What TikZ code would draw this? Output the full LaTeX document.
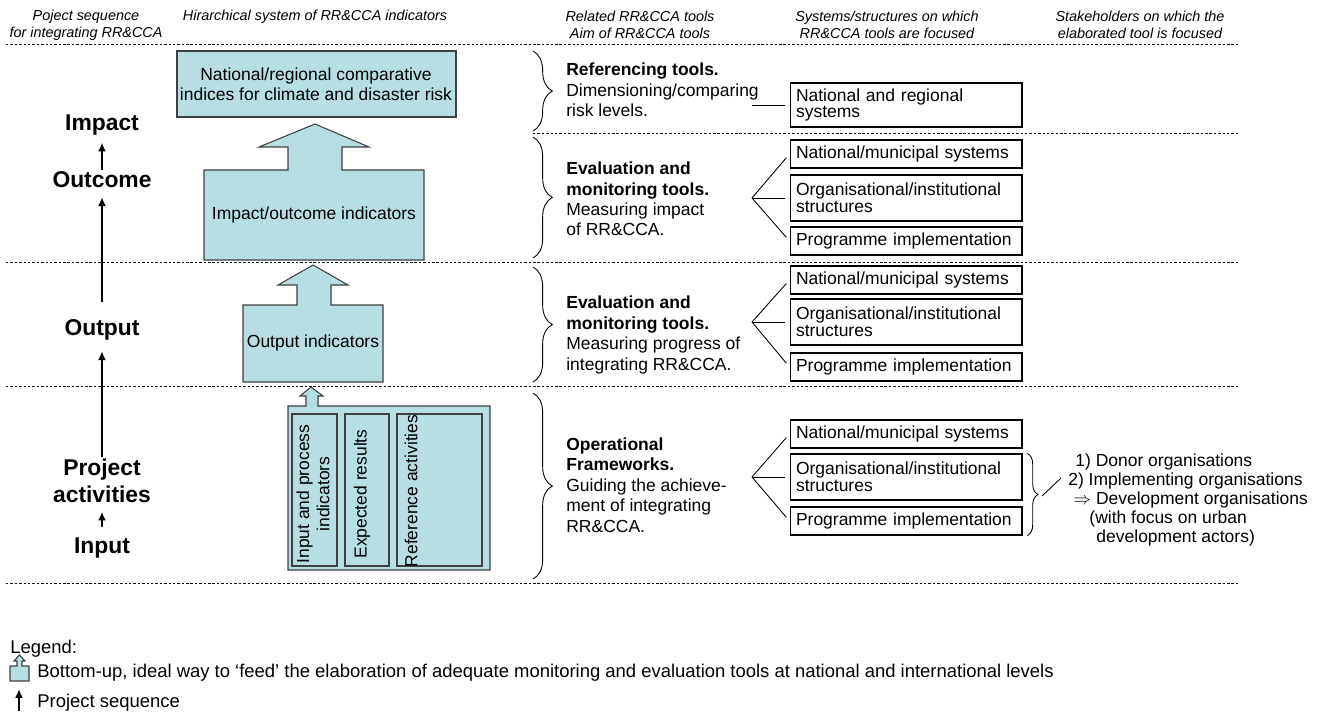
\documentclass[tikz,border=0pt]{standalone}
\usepackage{fontspec}
\setmainfont{Liberation Sans}
\usetikzlibrary{arrows.meta, decorations.pathreplacing}

\definecolor{feedblue}{RGB}{183,222,226}
\definecolor{feededge}{RGB}{64,64,64}

\tikzset{
  sepline/.style={line width=0.45pt, dash pattern=on 1.4pt off 1.1pt},
  feed/.style={fill=feedblue, draw=feededge, line width=0.6pt},
  slot/.style={draw=feededge, line width=0.6pt},
  hdr/.style={font=\fontsize{8.2}{9.6}\selectfont\itshape, align=center, inner sep=0pt},
  stage/.style={font=\fontsize{13}{15}\selectfont\bfseries, align=center, inner sep=1pt},
  seq/.style={line width=1.1pt, -{Latex[length=5pt,width=4.5pt]}},
  ind/.style={font=\fontsize{9.95}{11.6}\selectfont, align=center, inner sep=0pt},
  tooltext/.style={font=\fontsize{9.95}{11.6}\selectfont, align=left, anchor=west, inner sep=0pt},
  toolbrace/.style={decorate, decoration={brace, amplitude=11pt}, line width=0.5pt},
  stakebrace/.style={decorate, decoration={brace, amplitude=6pt}, line width=0.5pt},
  sysbox/.style={draw, line width=0.6pt, font=\fontsize{9.95}{9.4}\selectfont, align=left,
    text width=4.4cm, inner xsep=0.12cm, inner ysep=0pt, minimum height=#1},
  sysbox/.default=0.56cm,
  fan/.style={line width=0.5pt, shorten >=2.8pt},
  plain/.style={font=\fontsize{9.95}{10.8}\selectfont, anchor=west, align=left, inner sep=0pt},
  legendtext/.style={font=\fontsize{10.5}{12}\selectfont, anchor=west, inner sep=0pt},
}

\begin{document}
\begin{tikzpicture}[x=0.02cm, y=-0.02cm]
  \useasboundingbox (0,0) rectangle (1319,713);

  \node[hdr] (hdrseq) at (86,25) {Poject sequence\\for integrating RR\&CCA};
  \node[hdr] (hdrind) at (315,17) {Hirarchical system of RR\&CCA indicators};
  \node[hdr] (hdrtool) at (640,25) {Related RR\&CCA tools\\Aim of RR\&CCA tools};
  \node[hdr] (hdrsys) at (887,25) {Systems/structures on which\\RR\&CCA tools are focused};
  \node[hdr] (hdrstake) at (1140,25) {Stakeholders on which the\\elaborated tool is focused};

  \draw[sepline] (6,44) -- (1238,44);
  \draw[sepline] (533,133) -- (1238,133);
  \draw[sepline] (6,262) -- (1238,262);
  \draw[sepline] (6,386) -- (1238,386);
  \draw[sepline] (6,583) -- (1238,583);

  % project sequence
  \node[stage] (impact) at (102,125) {Impact};
  \node[stage] (outcome) at (102,180) {Outcome};
  \node[stage] (output) at (102,330) {Output};
  \node[stage] (activities) at (102,481) {Project\\activities};
  \node[stage] (input) at (102,548) {Input};
  \draw[seq, shorten >=3pt] (outcome) -- (impact);
  \draw[seq, shorten <=9pt, shorten >=4pt] (output) -- (outcome);
  \draw[seq, shorten >=5pt] (activities) -- (output);
  \draw[seq, shorten <=5pt, shorten >=4pt] (input) -- (activities);

  % indicators
  \filldraw[feed] (177,51) rectangle (456,117);
  \filldraw[feed] (204,170) -- (288,170) -- (288,147) -- (259,147) -- (315,124) -- (369,147)
    -- (342,147) -- (342,170) -- (424,170) -- (424,260) -- (204,260) -- cycle;
  \filldraw[feed] (243,305) -- (297,305) -- (297,285) -- (278,285) -- (313,265) -- (348,285)
    -- (331,285) -- (331,305) -- (383,305) -- (383,382) -- (243,382) -- cycle;
  \filldraw[feed] (288,406) -- (306,406) -- (306,396) -- (300,396) -- (311,387) -- (323,396)
    -- (318,396) -- (318,406) -- (490,406) -- (490,570) -- (288,570) -- cycle;
  \draw[slot] (292,414) rectangle (337,566);
  \draw[slot] (345,414) rectangle (389,566);
  \draw[slot] (397,414) rectangle (482,566);

  \node[ind] (indices) at (316,84) {National/regional comparative\\indices for climate and disaster risk};
  \node[ind] (impind) at (314,215) {Impact/outcome indicators};
  \node[ind] (outind) at (313,343) {Output indicators};
  \node[ind, rotate=90] (inproc) at (313,494) {Input and process\\indicators};
  \node[ind, rotate=90] (expres) at (362,494) {Expected results};
  \node[ind, rotate=90] (refact) at (411,491) {Reference activities};

  % tools
  \draw[toolbrace] (533,51) -- (533,131);
  \draw[toolbrace] (533,137) -- (533,258);
  \draw[toolbrace] (533,267) -- (533,382);
  \draw[toolbrace] (533,393) -- (533,579);

  \node[tooltext] (reftool) at (566,90) {\textbf{Referencing tools.}\\Dimensioning/comparing\\risk levels.};
  \node[tooltext] (evaltool) at (566,199) {\textbf{Evaluation and}\\\textbf{monitoring tools.}\\Measuring impact\\of RR\&CCA.};
  \node[tooltext] (progtool) at (566,335) {\textbf{Evaluation and}\\\textbf{monitoring tools.}\\Measuring progress of\\integrating RR\&CCA.};
  \node[tooltext] (optool) at (566,485) {\textbf{Operational}\\\textbf{Frameworks.}\\Guiding the achieve-\\ment of integrating\\RR\&CCA.};

  % systems
  \node[sysbox=0.88cm] (natreg) at (906,105) {National and regional\\systems};

  \node[sysbox] (nm1) at (906,154) {National/municipal systems};
  \node[sysbox=0.92cm] (org1) at (906,198) {Organisational/institutional\\structures};
  \node[sysbox] (prog1) at (906,241) {Programme implementation};

  \node[sysbox] (nm2) at (906,280) {National/municipal systems};
  \node[sysbox=0.92cm] (org2) at (906,322) {Organisational/institutional\\structures};
  \node[sysbox] (prog2) at (906,367) {Programme implementation};

  \node[sysbox] (nm3) at (906,434) {National/municipal systems};
  \node[sysbox=0.92cm] (org3) at (906,477) {Organisational/institutional\\structures};
  \node[sysbox] (prog3) at (906,521) {Programme implementation};

  \coordinate (fan1) at (752,105);
  \draw[fan] (fan1) -- (natreg.west);
  \coordinate (fan2) at (752,198);
  \draw[fan] (fan2) -- (nm1.west);
  \draw[fan] (fan2) -- (org1.west);
  \draw[fan] (fan2) -- (prog1.west);
  \coordinate (fan3) at (752,322);
  \draw[fan] (fan3) -- (nm2.west);
  \draw[fan] (fan3) -- (org2.west);
  \draw[fan] (fan3) -- (prog2.west);
  \coordinate (fan4) at (752,477);
  \draw[fan] (fan4) -- (nm3.west);
  \draw[fan] (fan4) -- (org3.west);
  \draw[fan] (fan4) -- (prog3.west);

  % stakeholders
  \draw[stakebrace] ([xshift=2.8pt]org3.north east) -- ([xshift=2.8pt]prog3.south east);
  \coordinate (stakebr) at (1042,496);
  \coordinate (stakeend) at (1061,478);
  \draw[line width=0.5pt] (stakebr) -- (stakeend);
  \node[plain] (stake) at (1068,500) {\hspace*{4pt}1) Donor organisations\\
    2) Implementing organisations\\
    \hspace*{3pt}$\Rightarrow$ Development organisations\\
    \hspace*{12pt}(with focus on urban\\
    \hspace*{16pt}development actors)};

  % legend
  \node[legendtext] (legend) at (10,649) {Legend:};
  \filldraw[feed] (10,666) -- (17,666) -- (17,661) -- (14,661) -- (19.5,655) -- (25,661)
    -- (22,661) -- (22,666) -- (29,666) -- (29,681) -- (10,681) -- cycle;
  \node[legendtext] (legfeed) at (37,673) {Bottom-up, ideal way to ‘feed’ the elaboration of adequate monitoring and evaluation tools at national and international levels};
  \coordinate (legseqa) at (19,711);
  \coordinate (legseqb) at (19,689);
  \draw[seq] (legseqa) -- (legseqb);
  \node[legendtext] (legseq) at (37,703) {Project sequence};
\end{tikzpicture}
\end{document}
